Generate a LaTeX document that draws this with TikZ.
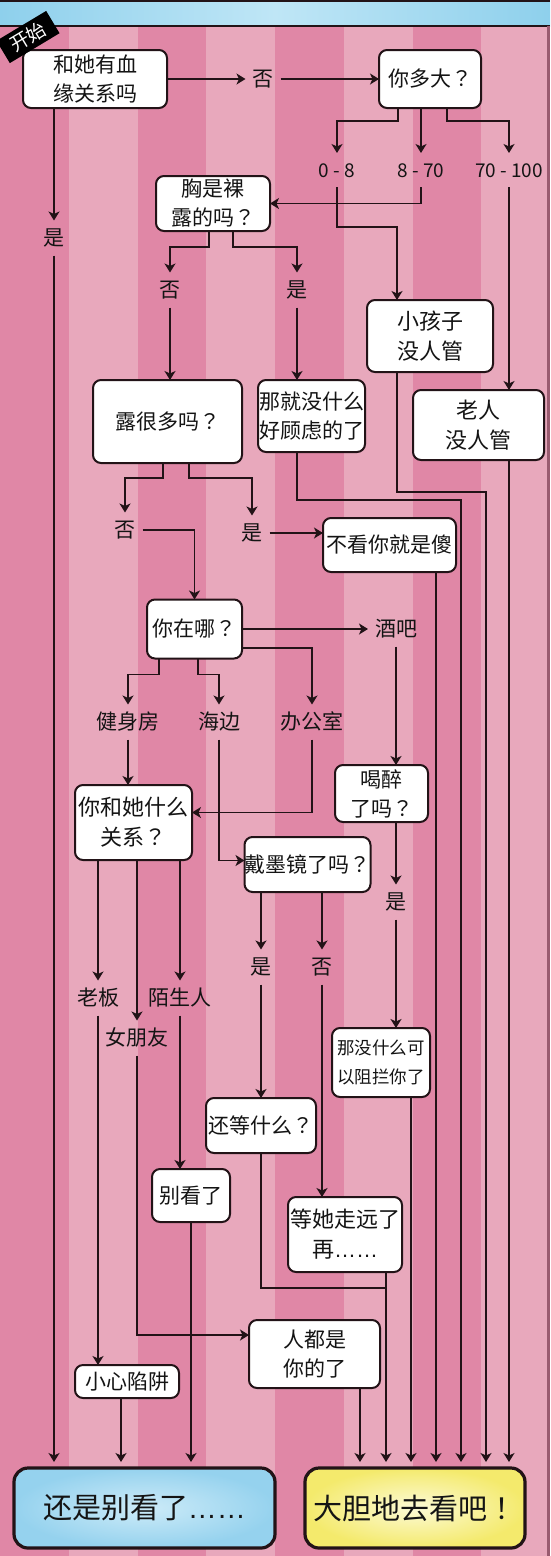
\documentclass[tikz,border=0pt]{standalone}
\usepackage{fontspec}
\setmainfont{Noto Sans CJK SC}
\newfontfamily\lat{Liberation Sans}
\newfontfamily\tcf{Noto Sans CJK TC}
\newcommand\qm{{\tcf ？}}
\newcommand\exm{{\tcf ！}}
\usetikzlibrary{arrows.meta,calc}
\definecolor{stripeD}{HTML}{E087A6}
\definecolor{stripeL}{HTML}{E8A8BC}
\definecolor{linec}{HTML}{221317}
\definecolor{textc}{HTML}{141414}
\definecolor{hdrA}{HTML}{8ED0EC}
\definecolor{hdrB}{HTML}{BFE6F6}
\definecolor{blueA}{HTML}{95D2EE}
\definecolor{blueB}{HTML}{CDEBF8}
\definecolor{yelA}{HTML}{F4EA6C}
\definecolor{yelB}{HTML}{FCFAD6}
\definecolor{edgec}{HTML}{9A5B70}
\begin{document}
\begin{tikzpicture}[x=1pt,y=-1pt,
  box/.style={draw=linec, line width=2pt, rounded corners=8pt, fill=white,
    inner sep=0pt, outer sep=0pt, align=center, text=textc,
    font=\fontsize{21}{29}\selectfont},
  lbl/.style={inner sep=0pt, outer sep=7pt, text height=18pt, text depth=3pt,
    text=textc, font=\fontsize{21}{25}\selectfont},
  rng/.style={text height=17pt, text depth=3pt, font=\fontsize{19}{23}\selectfont},
  final/.style={draw=linec, line width=3.2pt, rounded corners=14pt,
    inner sep=0pt, outer sep=0pt, text=textc, font=\fontsize{29}{33}\selectfont},
  arr/.style={draw=linec, line width=1.8pt, -{Stealth[length=9pt,width=11pt,inset=2.5pt]}},
  ln/.style={draw=linec, line width=1.8pt},
  fin/.style={shorten >=6pt}]
\useasboundingbox (0,0) rectangle (550,1556);
% background stripes
\foreach \i in {0,2,4,6} \fill[stripeD] ({\i*68.75},0) rectangle ({(\i+1)*68.75},1556);
\foreach \i in {1,3,5,7} \fill[stripeL] ({\i*68.75},0) rectangle ({(\i+1)*68.75},1556);
% header
\shade[left color=hdrA, right color=hdrA, middle color=hdrB] (0,0) rectangle (550,26);
\draw[linec, line width=1.5pt] (0,1) -- (550,1);
\draw[linec, line width=1.6pt] (0,26) -- (550,26);
\draw[edgec, line width=3pt] (548,26) -- (548,1556);

% nodes
\node[box, minimum width=144pt, minimum height=58pt] (A) at (95,79) {和她有血\\缘关系吗};
\node[lbl] (no1) at (263,79) {否};
\node[box, minimum width=102pt, minimum height=58pt] (B) at (430,79) {你多大\qm};
\node[lbl, rng] (r08) at (337,170) {0 - 8};
\node[lbl, rng] (r870) at (421,170) {8 - 70};
\node[lbl, rng] (r70) at (509,170) {70 - 100};
\node[box, minimum width=114pt, minimum height=55pt] (C) at (213,203.5) {胸是裸\\露的吗\qm};
\node[lbl] (yes1) at (54,238) {是};
\node[lbl] (no2) at (170,290) {否};
\node[lbl] (yes2) at (297,290) {是};
\node[box, minimum width=126pt, minimum height=72pt, font=\fontsize{22}{30}\selectfont] (F) at (430,336) {小孩子\\没人管};
\node[box, minimum width=149pt, minimum height=83pt] (D) at (167.5,421.5) {露很多吗\qm};
\node[box, minimum width=107pt, minimum height=72pt] (E) at (311.5,416) {那就没什么\\好顾虑的了};
\node[box, minimum width=131pt, minimum height=70pt, font=\fontsize{22}{30}\selectfont] (G) at (478.5,425) {老人\\没人管};
\node[lbl] (no3) at (125,530) {否};
\node[lbl] (yes3) at (252,533) {是};
\node[box, minimum width=133pt, minimum height=54pt] (H) at (389.5,545) {不看你就是傻};
\node[box, minimum width=95pt, minimum height=59pt] (I) at (194.5,629) {你在哪\qm};
\node[lbl] (bar) at (396,629) {酒吧};
\node[lbl] (gym) at (128,722) {健身房};
\node[lbl] (sea) at (219,722) {海边};
\node[lbl] (office) at (312,722) {办公室};
\node[box, minimum width=93pt, minimum height=57pt] (J) at (381.5,793.5) {喝醉\\了吗\qm};
\node[box, minimum width=117pt, minimum height=75pt, font=\fontsize{22}{30}\selectfont] (K) at (133.5,822.5) {你和她什么\\关系\qm};
\node[box, minimum width=125pt, minimum height=55pt] (L) at (307.5,864.5) {戴墨镜了吗\qm};
\node[lbl] (yes4) at (396,902) {是};
\node[lbl] (yes5) at (261,967) {是};
\node[lbl] (no5) at (322,967) {否};
\node[lbl] (boss) at (98,998) {老板};
\node[lbl] (stranger) at (180,998) {陌生人};
\node[lbl] (gf) at (137,1038) {女朋友};
\node[box, minimum width=98pt, minimum height=69pt, font=\fontsize{17.5}{29}\selectfont] (M) at (381,1062.5) {那没什么可\\以阻拦你了};
\node[box, minimum width=110pt, minimum height=55pt] (N) at (261,1125.5) {还等什么\qm};
\node[box, minimum width=78pt, minimum height=53pt] (R) at (191,1195.5) {别看了};
\node[box, minimum width=114pt, minimum height=75pt, font=\fontsize{22}{30}\selectfont] (O) at (345,1234.5) {等她走远了\\再{\lat ……}};
\node[box, minimum width=131pt, minimum height=68pt] (P) at (314.5,1354) {人都是\\你的了};
\node[box, minimum width=104pt, minimum height=33pt] (Q) at (127,1381.5) {小心陷阱};
\node[final, inner color=blueB, outer color=blueA, minimum width=261pt, minimum height=80pt] (S) at (144.5,1508) {还是别看了{\lat ……}};
\node[final, inner color=yelB, outer color=yelA, minimum width=220pt, minimum height=80pt] (T) at (415,1508) {大胆地去看吧\exm};

% start tag (on top of header and first box)
\node[fill=black, text=white, rotate=31, minimum width=58pt, minimum height=26pt,
  inner sep=0pt, font=\fontsize{19}{19}\selectfont] (start) at (28,37) {开始};

% connectors
\draw[arr] (A.east) -- (no1.west);
\draw[arr] (no1.east) -- (B.west);
\draw[arr] ([xshift=-32pt]B.south) -- ++(0,13) -| (r08.north);
\draw[arr] (r870.north |- B.south) -- (r870.north);
\draw[arr] ([xshift=17pt]B.south) -- ++(0,13) -| (r70.north);
\draw[arr] (r870.south) |- (C.east);
\draw[arr] (r08.south) -- ++(0,40) -| ([xshift=-33pt]F.north);
\draw[arr] (r70.south) -- (r70.south |- G.north);
\draw[arr] (yes1.north |- A.south) -- (yes1.north);
\draw[arr] ([xshift=-4pt]C.south) -- ++(0,16) -| (no2.north);
\draw[arr] ([xshift=20pt]C.south) -- ++(0,16) -| (yes2.north);
\draw[arr] (no2.south) -- (no2.south |- D.north);
\draw[arr] (yes2.south) -- (yes2.south |- E.north);
\draw[arr] ([xshift=-4.5pt]D.south) -- ++(0,15) -| (no3.north);
\draw[arr] ([xshift=21.5pt]D.south) -- ++(0,15) -| (yes3.north);
\draw[arr] (yes3.east) -- (yes3.east -| H.west);
\draw[arr] (no3.east) -| (I.north);
\draw[arr] (I.east) -- (bar.west);
\draw[arr] ([yshift=-19pt]I.east) -| (office.north);
\draw[arr] ([xshift=-35.5pt]I.south) -- ++(0,16) -| (gym.north);
\draw[arr] ([xshift=3.5pt]I.south) -- ++(0,16) -| (sea.north);
\draw[arr] (bar.south) -- (bar.south |- J.north);
\draw[arr] (gym.south) -- (gym.south |- K.north);
\draw[arr] (office.south) |- ([yshift=10pt]K.east);
\draw[arr] (sea.south) |- ([yshift=4pt]L.west);
\draw[arr] (yes4.north |- J.south) -- (yes4.north);
\draw[arr] (yes4.south) -- (yes4.south |- M.north);
\draw[arr] (yes5.north |- L.south) -- (yes5.north);
\draw[arr] (no5.north |- L.south) -- (no5.north);
\draw[arr] (yes5.south) -- (yes5.south |- N.north);
\draw[arr] (no5.south) -- (no5.south |- O.north);
\draw[arr] (boss.north |- K.south) -- (boss.north);
\draw[arr] (stranger.north |- K.south) -- (stranger.north);
\draw[arr] (gf.north |- K.south) -- (gf.north);
\draw[arr] (boss.south) -- (boss.south |- Q.north);
\draw[arr] (stranger.south) -- (stranger.south |- R.north);
\draw[arr] (gf.south) |- ([yshift=19pt]P.west);
\coordinate (mergeO) at (386,1288);
\draw[ln] (N.south) |- (mergeO);

% into final boxes
\draw[arr, fin] (yes1.south) -- (yes1.south |- S.north);
\draw[arr, fin] ([xshift=-6pt]Q.south) -- ([xshift=-6pt]Q.south |- S.north);
\draw[arr, fin] (R.south) -- (R.south |- S.north);
\draw[arr, fin] ([xshift=45.5pt]P.south) -- ([xshift=45.5pt]P.south |- T.north);
\draw[arr, fin] ([xshift=41pt]O.south) -- ([xshift=41pt]O.south |- T.north);
\draw[arr, fin] ([xshift=30pt]M.south) -- ([xshift=30pt]M.south |- T.north);
\draw[arr, fin] ([xshift=46.5pt]H.south) -- ([xshift=46.5pt]H.south |- T.north);
\draw[arr, fin] ([xshift=-14.5pt]E.south) -- ++(0,48) -| ([xshift=46pt]T.north);
\draw[arr, fin] ([xshift=-33pt]F.south) -- ++(0,120) -| ([xshift=71pt]T.north);
\draw[arr, fin] ([xshift=30.5pt]G.south) -- ([xshift=30.5pt]G.south |- T.north);
\end{tikzpicture}
\end{document}
